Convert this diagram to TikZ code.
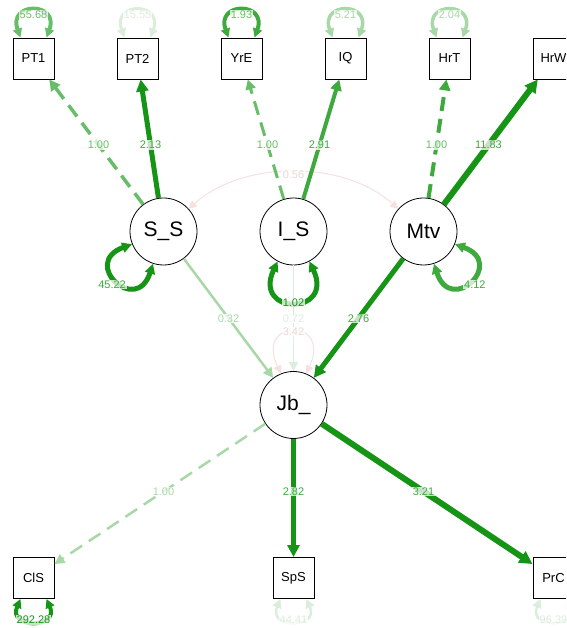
\documentclass[tikz,border=0pt]{standalone}
\usepackage{fontspec}
\setmainfont{Liberation Sans}
\usetikzlibrary{arrows.meta,calc}
\definecolor{gA}{RGB}{22,148,22}
\definecolor{gB}{RGB}{62,170,62}
\definecolor{gC}{RGB}{104,190,104}
\definecolor{gD}{RGB}{168,216,168}
\definecolor{gE}{RGB}{220,237,220}
\definecolor{pk}{RGB}{246,224,224}
\definecolor{pkt}{RGB}{236,214,214}
\tikzset{
  man/.style={draw=black, line width=0.9pt, minimum width=41pt, minimum height=41pt, inner sep=0pt, fill=white, font=\fontsize{13}{13}\selectfont},
  lat/.style={draw=black, line width=0.8pt, circle, minimum size=67pt, inner sep=0pt, fill=white, font=\fontsize{21}{21}\selectfont},
  elab/.style={font=\fontsize{11}{11}\selectfont, inner sep=0.8pt, fill=white, fill opacity=0.75, text opacity=1},
  ahead/.style={-{Triangle[length=#1pt, width=#1pt]}},
  bhead/.style={{Triangle[length=#1pt, width=#1pt]}-{Triangle[length=#1pt, width=#1pt]}},
  fixd/.style={dash pattern=on 14pt off 8pt},
}
\begin{document}
\begin{tikzpicture}[x=1pt,y=1pt]
\useasboundingbox (0,0) rectangle (566,628);
\clip (0,0) rectangle (566,628);
% nodes
\node[man] (PT1) at (33.5,569.5) {PT1};
\node[man] (PT2) at (137.5,569.5) {PT2};
\node[man] (YrE) at (241.5,569.5) {YrE};
\node[man] (IQ)  at (345.5,569.5) {IQ};
\node[man] (HrT) at (449.5,569.5) {HrT};
\node[man] (HrW) at (553.5,569.5) {HrW};
\node[lat] (SS)  at (163.5,396.5) {S\_S};
\node[lat] (IS)  at (293.5,396.5) {I\_S};
\node[lat] (Mtv) at (423.5,396.5) {Mtv};
\node[lat] (Jb)  at (293.5,223) {Jb\_};
\node[man] (ClS) at (33.5,50) {ClS};
\node[man] (SpS) at (293.5,50) {SpS};
\node[man] (PrC) at (553.5,50) {PrC};

% faint covariance and residual
\draw[pk, line width=1pt, bhead=8] (SS.42) .. controls +(55,49) and +(-55,49) .. (Mtv.138);
\draw[pk, line width=1pt, bhead=8] (Jb.112) .. controls +(115:62) and +(65:62) .. (Jb.68);

% loadings
\draw[gC, line width=3.5pt, fixd, ahead=11] (SS) -- (PT1);
\draw[gA, line width=5pt, ahead=12] (SS) -- (PT2);
\draw[gC, line width=3pt, fixd, ahead=10] (IS) -- (YrE);
\draw[gB, line width=4pt, ahead=11] (IS) -- (IQ);
\draw[gB, line width=4pt, fixd, ahead=11] (Mtv) -- (HrT);
\draw[gA, line width=6pt, ahead=13] (Mtv) -- (HrW);
% regressions
\draw[gD, line width=2.5pt, ahead=10] (SS) -- (Jb);
\draw[gE, line width=1pt, ahead=9] (IS) -- (Jb);
\draw[gA, line width=5pt, ahead=12] (Mtv) -- (Jb);
% indicators of Jb_
\draw[gD, line width=2.5pt, fixd, ahead=10] (Jb) -- (ClS);
\draw[gA, line width=5pt, ahead=12] (Jb) -- (SpS);
\draw[gA, line width=6pt, ahead=13] (Jb) -- (PrC);

% latent variances
\draw[gA, line width=5pt, bhead=10] (SS.202) .. controls +(200:55) and +(252:55) .. (SS.252);
\draw[gA, line width=5pt, bhead=10] (IS.242) .. controls +(245:60) and +(295:60) .. (IS.298);
\draw[gB, line width=5pt, bhead=10] (Mtv.338) .. controls +(340:55) and +(288:55) .. (Mtv.288);

% manifest variances (top)
\draw[gC, line width=4pt, bhead=9] ([xshift=-13pt]PT1.north) .. controls +(-13,36) and +(13,36) .. ([xshift=13pt]PT1.north);
\draw[gE, line width=3pt, bhead=9] ([xshift=-13pt]PT2.north) .. controls +(-13,36) and +(13,36) .. ([xshift=13pt]PT2.north);
\draw[gB, line width=4pt, bhead=9] ([xshift=-13pt]YrE.north) .. controls +(-13,36) and +(13,36) .. ([xshift=13pt]YrE.north);
\draw[gD, line width=3.5pt, bhead=9] ([xshift=-13pt]IQ.north) .. controls +(-13,36) and +(13,36) .. ([xshift=13pt]IQ.north);
\draw[gD, line width=3.5pt, bhead=9] ([xshift=-13pt]HrT.north) .. controls +(-13,36) and +(13,36) .. ([xshift=13pt]HrT.north);
% manifest variances (bottom)
\draw[gA, line width=4pt, bhead=9] ([xshift=-13pt]ClS.south) .. controls +(-13,-30) and +(13,-30) .. ([xshift=13pt]ClS.south);
\draw[gE, line width=2.5pt, bhead=9] ([xshift=-13pt]SpS.south) .. controls +(-13,-30) and +(13,-30) .. ([xshift=13pt]SpS.south);
\draw[gE, line width=2.5pt, bhead=9] ([xshift=-13pt]PrC.south) .. controls +(-13,-30) and +(13,-30) .. ([xshift=13pt]PrC.south);

% edge labels
\node[elab, text=gC] (l1) at ($(SS)!0.5!(PT1)$) {1.00};
\node[elab, text=gB] (l2) at ($(SS)!0.5!(PT2)$) {2.13};
\node[elab, text=gC] (l3) at ($(IS)!0.5!(YrE)$) {1.00};
\node[elab, text=gB] (l4) at ($(IS)!0.5!(IQ)$) {2.91};
\node[elab, text=gC] (l5) at ($(Mtv)!0.5!(HrT)$) {1.00};
\node[elab, text=gB] (l6) at ($(Mtv)!0.5!(HrW)$) {11.83};
\node[elab, text=gD] (l7) at ($(SS)!0.5!(Jb)$) {0.32};
\node[elab, text=gE] (l8) at ($(IS)!0.5!(Jb)$) {0.72};
\node[elab, text=gB] (l9) at ($(Mtv)!0.5!(Jb)$) {2.76};
\node[elab, text=gD] (l10) at ($(Jb)!0.5!(ClS)$) {1.00};
\node[elab, text=gB] (l11) at ($(Jb)!0.5!(SpS)$) {2.82};
\node[elab, text=gB] (l12) at ($(Jb)!0.5!(PrC)$) {3.21};
% variance / covariance labels
\node[elab, text=pkt] (c1) at (293.5,453) {0.56};
\node[elab, text=pkt] (c2) at ($(Jb)+(0,73)$) {3.42};
\node[elab, text=gB] (v1) at ($(SS)+(226:74)$) {45.22};
\node[elab, text=gA] (v2) at ($(IS)+(0,-71)$) {1.02};
\node[elab, text=gB] (v3) at ($(Mtv)+(314:74)$) {4.12};
\node[elab, text=gC] (t1) at (33.5,613) {55.68};
\node[elab, text=gE] (t2) at (137.5,613) {15.55};
\node[elab, text=gC] (t3) at (241.5,613) {1.93};
\node[elab, text=gD] (t4) at (345.5,613) {5.21};
\node[elab, text=gD] (t5) at (449.5,613) {2.04};
\node[elab, text=gA] (b1) at (33.5,8) {292.28};
\node[elab, text=gE] (b2) at (293.5,8) {44.41};
\node[elab, text=gE] (b3) at (553.5,8) {96.39};
\end{tikzpicture}
\end{document}
